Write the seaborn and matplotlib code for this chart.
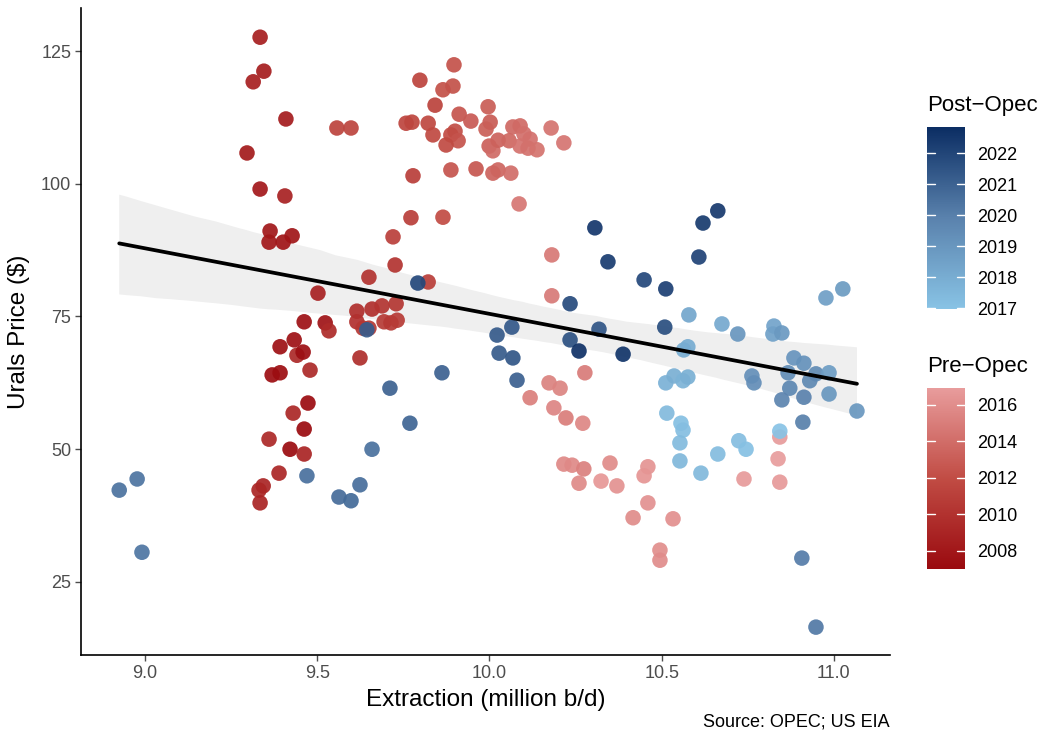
import numpy as np
import pandas as pd
import matplotlib
matplotlib.use("Agg")
import matplotlib.pyplot as plt
import seaborn as sns
from matplotlib.colors import LinearSegmentedColormap, Normalize
from matplotlib.cm import ScalarMappable

# ---------------- data ----------------
pre_extraction = [
    9.334, 9.345, 9.314, 9.409, 9.296, 9.334, 9.406, 9.363, 9.360, 9.401,
    9.427, 9.502, 9.462, 9.523, 9.534, 9.433, 9.392, 9.441, 9.459, 9.369,
    9.392, 9.479, 9.473, 9.430, 9.462, 9.360, 9.421, 9.462, 9.389, 9.343,
    9.331, 9.334, 9.557, 9.598, 9.897, 9.798, 9.865, 9.894, 9.842, 9.912,
    9.946, 9.996, 9.758, 9.775, 9.822, 9.836, 9.900, 9.888, 9.909, 9.874,
    10.002, 9.990, 9.999, 10.010, 10.025, 10.057, 10.068, 10.089, 10.100, 10.118,
    10.089, 10.112, 10.138, 10.179, 10.216, 9.778, 9.888, 9.961, 10.010, 10.025,
    10.062, 10.086, 9.772, 9.865, 9.720, 9.726, 9.650, 9.822, 9.615, 9.659,
    9.688, 9.729, 9.615, 9.633, 9.650, 9.694, 9.714, 9.732, 9.624, 10.181,
    10.181, 10.277, 10.173, 10.205, 10.118, 10.187, 10.222, 10.271, 10.216, 10.240,
    10.274, 10.260, 10.324, 10.350, 10.370, 10.460, 10.449, 10.460, 10.417, 10.533,
    10.495, 10.495, 10.739, 10.843, 10.838, 10.843,
]
pre_price = [
    127.6, 121.2, 119.2, 112.2, 105.8, 99.0, 97.7, 91.1, 89.0, 89.0,
    90.2, 79.4, 74.0, 73.8, 72.3, 70.6, 69.3, 67.7, 68.3, 64.0,
    64.4, 64.9, 58.7, 56.8, 53.8, 51.9, 50.0, 49.1, 45.5, 43.1,
    42.3, 39.9, 110.5, 110.5, 122.4, 119.5, 117.7, 118.4, 114.8, 113.1,
    111.8, 114.5, 111.4, 111.6, 111.4, 109.2, 109.9, 109.2, 108.1, 107.3,
    111.6, 110.3, 107.1, 106.2, 108.2, 108.1, 110.7, 110.9, 109.4, 108.4,
    107.1, 106.7, 106.4, 110.5, 107.7, 101.5, 102.6, 102.8, 102.0, 102.6,
    102.0, 96.2, 93.6, 93.7, 90.0, 84.7, 82.4, 81.5, 76.0, 76.4,
    77.0, 77.4, 74.0, 72.8, 72.8, 74.0, 73.8, 74.3, 67.2, 86.6,
    78.9, 64.4, 62.5, 61.5, 59.7, 57.8, 55.9, 54.9, 47.2, 47.0,
    46.3, 43.6, 44.0, 47.4, 43.1, 46.7, 45.0, 39.9, 37.1, 36.9,
    31.0, 29.1, 44.4, 52.3, 48.2, 43.8,
]
pre_year = [
    2008.5, 2008.4, 2008.6, 2008.3, 2008.2, 2008.1, 2008.7, 2007.9, 2008.0, 2007.8,
    2007.85, 2008.75, 2007.5, 2007.6, 2009.4, 2007.45, 2007.4, 2009.35, 2007.3, 2007.25,
    2007.2, 2009.3, 2007.1, 2009.2, 2007.05, 2009.25, 2007.0, 2008.95, 2009.15, 2009.05,
    2009.1, 2009.0, 2011.3, 2011.35, 2012.3, 2011.3, 2012.2, 2012.25, 2011.2, 2012.5,
    2012.8, 2013.0, 2011.4, 2011.45, 2011.6, 2011.7, 2012.1, 2012.0, 2012.4, 2011.8,
    2012.9, 2013.1, 2013.2, 2013.9, 2013.3, 2013.6, 2013.7, 2013.8, 2014.1, 2014.2,
    2014.3, 2014.25, 2014.35, 2014.4, 2014.45, 2010.9, 2012.45, 2012.6, 2013.4, 2013.5,
    2014.0, 2014.6, 2010.95, 2011.9, 2011.0, 2010.1, 2010.0, 2010.9, 2009.7, 2009.8,
    2010.2, 2010.3, 2009.9, 2010.4, 2010.5, 2010.6, 2010.45, 2010.7, 2009.6, 2014.7,
    2014.8, 2014.9, 2015.3, 2015.4, 2015.1, 2015.5, 2015.0, 2015.6, 2015.7, 2015.75,
    2015.2, 2015.8, 2016.6, 2015.85, 2016.3, 2016.4, 2016.5, 2016.2, 2015.9, 2016.1,
    2016.0, 2015.95, 2016.8, 2016.85, 2016.9, 2016.7,
]

post_extraction = [
    9.659, 9.470, 9.624, 9.563, 9.598, 8.977, 8.925, 8.991, 9.644, 9.862,
    9.711, 9.769, 10.022, 10.065, 10.028, 10.068, 10.080, 10.234, 10.234, 10.260,
    10.306, 10.318, 9.792, 10.388, 10.344, 10.663, 10.620, 10.608, 10.449, 10.512,
    10.509, 10.579, 10.675, 10.721, 10.826, 10.823, 10.849, 10.977, 11.026, 10.564,
    10.576, 10.884, 10.913, 10.762, 10.768, 10.867, 10.948, 10.986, 10.930, 10.872,
    10.849, 10.913, 10.986, 11.067, 10.910, 10.907, 10.948, 10.843, 10.515, 10.556,
    10.562, 10.553, 10.553, 10.614, 10.663, 10.724, 10.745, 10.512, 10.536, 10.562,
    10.576,
]
post_price = [
    50.0, 45.0, 43.3, 41.0, 40.3, 44.4, 42.3, 30.6, 72.5, 64.4,
    61.5, 54.9, 71.5, 73.0, 68.1, 67.2, 63.0, 77.4, 70.6, 68.5,
    91.7, 72.6, 81.3, 67.9, 85.3, 94.9, 92.6, 86.2, 81.9, 80.2,
    73.0, 75.3, 73.6, 71.7, 73.2, 71.7, 71.9, 78.5, 80.2, 68.7,
    69.3, 67.2, 66.2, 63.8, 62.5, 64.4, 64.2, 64.4, 62.9, 61.5,
    59.3, 59.8, 60.4, 57.2, 55.1, 29.5, 16.5, 53.4, 56.8, 54.9,
    53.6, 51.2, 47.8, 45.5, 49.1, 51.6, 50.0, 62.5, 63.8, 62.9,
    63.6,
]
post_year = [
    2020.5, 2020.55, 2020.6, 2020.7, 2020.75, 2020.4, 2020.45, 2020.35, 2021.2, 2021.05,
    2021.0, 2020.9, 2021.3, 2021.35, 2021.25, 2021.4, 2021.1, 2021.8, 2021.6, 2022.7,
    2022.5, 2021.45, 2021.9, 2022.6, 2022.3, 2022.45, 2022.4, 2022.1, 2021.9, 2022.2,
    2021.7, 2018.3, 2018.2, 2019.0, 2018.4, 2018.5, 2018.9, 2018.6, 2018.8, 2018.0,
    2018.05, 2019.1, 2019.2, 2019.3, 2019.35, 2019.4, 2019.5, 2018.7, 2019.6, 2019.7,
    2019.8, 2019.9, 2018.95, 2018.98, 2020.0, 2020.1, 2020.25, 2017.0, 2017.4, 2017.15,
    2017.2, 2017.35, 2017.5, 2017.45, 2017.3, 2017.25, 2017.1, 2017.8, 2017.9, 2017.7,
    2017.85,
]

x_ticks = [9.0, 9.5, 10.0, 10.5, 11.0]
x_tick_labels = ["9.0", "9.5", "10.0", "10.5", "11.0"]
y_ticks = [25, 50, 75, 100, 125]
post_ticks = [2017, 2018, 2019, 2020, 2021, 2022]
pre_ticks = [2008, 2010, 2012, 2014, 2016]

pre_df = pd.DataFrame({"extraction": pre_extraction, "price": pre_price, "year": pre_year})
post_df = pd.DataFrame({"extraction": post_extraction, "price": post_price, "year": post_year})
all_df = pd.concat([pre_df, post_df], ignore_index=True)

# ---------------- style ----------------
sns.set_theme(style="ticks")
plt.rcParams["font.family"] = ["Liberation Sans", "DejaVu Sans"]

cmap_pre = LinearSegmentedColormap.from_list("pre", ["#9a0a0f", "#c14c44", "#e89c9c"])
cmap_post = LinearSegmentedColormap.from_list("post", ["#88c3e5", "#5a82ad", "#0b2d63"])
norm_pre = Normalize(vmin=2007.0, vmax=2016.93)
norm_post = Normalize(vmin=2016.98, vmax=2022.84)

TITLE_FS = 17.5
LEG_TITLE_FS = 16
SMALL_FS = 13

W, H = 1043, 740
fig = plt.figure(figsize=(W / 100, H / 100), dpi=100)
ax = fig.add_axes([81 / W, 1 - 655 / H, (890 - 81) / W, (655 - 8) / H])

n_before = len(ax.collections)
sns.regplot(data=all_df, x="extraction", y="price", scatter=False, ci=95, seed=1,
            color="#999999", line_kws=dict(color="black", lw=2.7, zorder=5), ax=ax)
for coll in ax.collections[n_before:]:
    coll.set_facecolor("#efefef")
    coll.set_alpha(1.0)
    coll.set_edgecolor("none")
    coll.set_zorder(1)

sns.scatterplot(data=pre_df, x="extraction", y="price", hue="year", palette=cmap_pre,
                hue_norm=norm_pre, s=125, alpha=0.92, linewidth=0, legend=False,
                ax=ax, zorder=3)
sns.scatterplot(data=post_df, x="extraction", y="price", hue="year", palette=cmap_post,
                hue_norm=norm_post, s=125, alpha=0.92, linewidth=0, legend=False,
                ax=ax, zorder=3)

ax.set_xlim(8.814, 11.163)
ax.set_ylim(11.25, 133.1)
ax.set_xticks(x_ticks)
ax.set_xticklabels(x_tick_labels)
ax.set_yticks(y_ticks)
ax.tick_params(axis="both", labelsize=SMALL_FS, colors="#4d4d4d", length=4, width=1,
               labelcolor="#4d4d4d", pad=3)
for side in ["top", "right"]:
    ax.spines[side].set_visible(False)
for side in ["left", "bottom"]:
    ax.spines[side].set_color("black")
    ax.spines[side].set_linewidth(1.2)
ax.set_xlabel("Extraction (million b/d)", fontsize=TITLE_FS, color="black", labelpad=5)
ax.set_ylabel("Urals Price ($)", fontsize=TITLE_FS, color="black", labelpad=8)

# ---------------- colourbars ----------------
def make_bar(top_px, bot_px, cmap, norm, ticks, title, title_px):
    cax = fig.add_axes([927 / W, 1 - bot_px / H, 38 / W, (bot_px - top_px) / H])
    cb = fig.colorbar(ScalarMappable(norm=norm, cmap=cmap), cax=cax)
    cb.outline.set_visible(False)
    cb.set_ticks(ticks)
    cb.set_ticklabels([str(t) for t in ticks])
    cax.tick_params(length=0, pad=9, labelsize=SMALL_FS, labelcolor="black")
    for t in ticks:
        cax.axhline(t, xmin=0, xmax=0.2, color="white", lw=1)
        cax.axhline(t, xmin=0.8, xmax=1, color="white", lw=1)
    fig.text(927 / W, 1 - title_px / H, title, fontsize=LEG_TITLE_FS, va="center",
             ha="left", color="black")

make_bar(127, 309, cmap_post, norm_post, post_ticks, "Post\u2212Opec", 105)
make_bar(388, 569, cmap_pre, norm_pre, pre_ticks, "Pre\u2212Opec", 367)

fig.text(890 / W, 1 - 722 / H, "Source: OPEC; US EIA", fontsize=13, ha="right",
         va="center", color="black")

fig.savefig("out.png", dpi=100)
